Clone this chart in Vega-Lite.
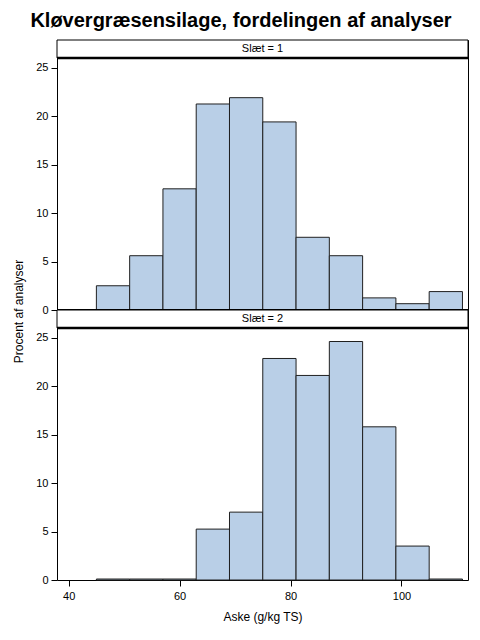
{
  "$schema": "https://vega.github.io/schema/vega-lite/v6.json",
  "padding": {"left": 12, "top": 11, "right": 5, "bottom": 5},
  "background": "white",
  "bounds": "flush",
  "title": {
    "text": "Kløvergræsensilage, fordelingen af analyser",
    "font": "Liberation Sans",
    "fontSize": 20,
    "fontWeight": "bold",
    "color": "black",
    "anchor": "middle",
    "offset": 8
  },
  "datasets": {
    "bins": [
      {"slaet": 1, "bin_start": 45, "bin_end": 51, "pct": 2.5},
      {"slaet": 1, "bin_start": 51, "bin_end": 57, "pct": 5.6},
      {"slaet": 1, "bin_start": 57, "bin_end": 63, "pct": 12.5},
      {"slaet": 1, "bin_start": 63, "bin_end": 69, "pct": 21.25},
      {"slaet": 1, "bin_start": 69, "bin_end": 75, "pct": 21.9},
      {"slaet": 1, "bin_start": 75, "bin_end": 81, "pct": 19.4},
      {"slaet": 1, "bin_start": 81, "bin_end": 87, "pct": 7.5},
      {"slaet": 1, "bin_start": 87, "bin_end": 93, "pct": 5.6},
      {"slaet": 1, "bin_start": 93, "bin_end": 99, "pct": 1.25},
      {"slaet": 1, "bin_start": 99, "bin_end": 105, "pct": 0.65},
      {"slaet": 1, "bin_start": 105, "bin_end": 111, "pct": 1.9},
      {"slaet": 2, "bin_start": 45, "bin_end": 51, "pct": 0.1},
      {"slaet": 2, "bin_start": 51, "bin_end": 57, "pct": 0.1},
      {"slaet": 2, "bin_start": 57, "bin_end": 63, "pct": 0.1},
      {"slaet": 2, "bin_start": 63, "bin_end": 69, "pct": 5.25},
      {"slaet": 2, "bin_start": 69, "bin_end": 75, "pct": 7.0},
      {"slaet": 2, "bin_start": 75, "bin_end": 81, "pct": 22.85},
      {"slaet": 2, "bin_start": 81, "bin_end": 87, "pct": 21.1},
      {"slaet": 2, "bin_start": 87, "bin_end": 93, "pct": 24.6},
      {"slaet": 2, "bin_start": 93, "bin_end": 99, "pct": 15.8},
      {"slaet": 2, "bin_start": 99, "bin_end": 105, "pct": 3.5},
      {"slaet": 2, "bin_start": 105, "bin_end": 111, "pct": 0.1}
    ],
    "headers": [
      {"slaet": 1, "label": "Slæt = 1"},
      {"slaet": 2, "label": "Slæt = 2"}
    ]
  },
  "spacing": 0,
  "vconcat": [
    {
      "width": 411,
      "height": 270,
      "layer": [
        {
          "data": {"name": "bins"},
          "transform": [{"filter": "datum.slaet == 1"}],
          "mark": {"type": "rect", "fill": "#b9cfe7", "stroke": "#202020", "strokeWidth": 1},
          "encoding": {
            "x": {
              "field": "bin_start",
              "type": "quantitative",
              "scale": {"domain": [37.9, 112], "nice": false, "zero": false},
              "axis": null
            },
            "x2": {"field": "bin_end"},
            "y": {
              "field": "pct",
              "type": "quantitative",
              "scale": {"domain": [0, 27.85], "nice": false},
              "axis": {
                "values": [0, 5, 10, 15, 20, 25],
                "title": "Procent af analyser",
                "titleY": 271
              }
            },
            "y2": {"datum": 0}
          }
        },
        {
          "data": {"name": "headers"},
          "transform": [{"filter": "datum.slaet == 1"}],
          "mark": {"type": "rect", "fill": "white", "stroke": "black", "strokeWidth": 1},
          "encoding": {"y": {"datum": 26}, "y2": {"datum": 27.85}}
        },
        {
          "data": {"name": "headers"},
          "transform": [{"filter": "datum.slaet == 1"}],
          "mark": {"type": "rule", "color": "black", "strokeWidth": 2.5},
          "encoding": {"y": {"datum": 26}}
        },
        {
          "data": {"name": "headers"},
          "transform": [{"filter": "datum.slaet == 1"}],
          "mark": {"type": "rule", "color": "black", "strokeWidth": 2},
          "encoding": {"y": {"datum": 0}}
        },
        {
          "data": {"name": "headers"},
          "transform": [{"filter": "datum.slaet == 1"}],
          "mark": {"type": "text", "font": "Liberation Sans", "fontSize": 11, "baseline": "middle", "color": "black"},
          "encoding": {"y": {"datum": 26.92}, "text": {"field": "label"}}
        }
      ]
    },
    {
      "width": 411,
      "height": 270,
      "layer": [
        {
          "data": {"name": "bins"},
          "transform": [{"filter": "datum.slaet == 2"}],
          "mark": {"type": "rect", "fill": "#b9cfe7", "stroke": "#202020", "strokeWidth": 1},
          "encoding": {
            "x": {
              "field": "bin_start",
              "type": "quantitative",
              "scale": {"domain": [37.9, 112], "nice": false, "zero": false},
              "axis": {
                "values": [40, 60, 80, 100],
                "title": "Aske (g/kg TS)",
                "labelPadding": 4,
                "titlePadding": 10
              }
            },
            "x2": {"field": "bin_end"},
            "y": {
              "field": "pct",
              "type": "quantitative",
              "scale": {"domain": [0, 27.85], "nice": false},
              "axis": {
                "values": [0, 5, 10, 15, 20, 25],
                "title": null
              }
            },
            "y2": {"datum": 0}
          }
        },
        {
          "data": {"name": "headers"},
          "transform": [{"filter": "datum.slaet == 2"}],
          "mark": {"type": "rect", "fill": "white", "stroke": "black", "strokeWidth": 1},
          "encoding": {"y": {"datum": 26}, "y2": {"datum": 27.85}}
        },
        {
          "data": {"name": "headers"},
          "transform": [{"filter": "datum.slaet == 2"}],
          "mark": {"type": "rule", "color": "black", "strokeWidth": 2.5},
          "encoding": {"y": {"datum": 26}}
        },
        {
          "data": {"name": "headers"},
          "transform": [{"filter": "datum.slaet == 2"}],
          "mark": {"type": "text", "font": "Liberation Sans", "fontSize": 11, "baseline": "middle", "color": "black"},
          "encoding": {"y": {"datum": 26.92}, "text": {"field": "label"}}
        }
      ]
    }
  ],
  "config": {
    "view": {"stroke": "black", "strokeWidth": 1},
    "axis": {
      "domain": false,
      "grid": false,
      "tickColor": "black",
      "tickSize": 6,
      "labelPadding": 3,
      "labelFont": "Liberation Sans",
      "labelFontSize": 11,
      "labelColor": "black",
      "titleFont": "Liberation Sans",
      "titleFontSize": 12,
      "titleFontWeight": "normal",
      "titleColor": "black",
      "titlePadding": 10
    }
  }
}
